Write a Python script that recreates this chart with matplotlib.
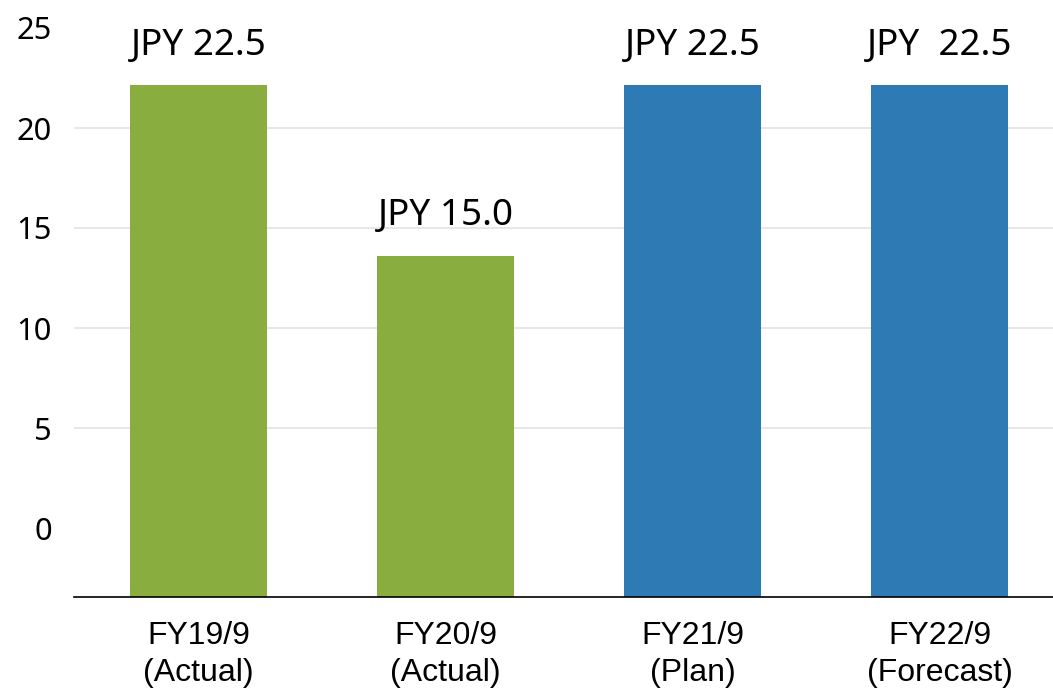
import matplotlib
matplotlib.use("Agg")
import matplotlib.pyplot as plt
from matplotlib import font_manager

# Dividend per share by fiscal year
categories = ["FY19/9\n(Actual)", "FY20/9\n(Actual)", "FY21/9\n(Plan)", "FY22/9\n(Forecast)"]
dividends = [22.5, 15.0, 22.5, 22.5]
value_labels = ["JPY 22.5", "JPY 15.0", "JPY 22.5", "JPY  22.5"]
bar_colors = ["#89AD3F", "#89AD3F", "#2E7AB4", "#2E7AB4"]
scale_ticks = [0, 5, 10, 15, 20, 25]

noto_path = font_manager.findfont(font_manager.FontProperties(family="Noto Sans"))
arial_path = font_manager.findfont(font_manager.FontProperties(family="Liberation Sans"))
num_font = font_manager.FontProperties(fname=noto_path, size=22.2)
cat_font = font_manager.FontProperties(fname=arial_path, size=23)
val_font = font_manager.FontProperties(fname=noto_path, size=26.5)

W, H = 1053, 691
fig = plt.figure(figsize=(W / 100, H / 100), dpi=100)
fig.patch.set_facecolor("white")

left_px, base_px = 74, 597
rect = [left_px / W, (H - base_px) / H, 1 - left_px / W, base_px / H]

# Scale axis: left tick labels and light gridlines
ax = fig.add_axes(rect)
ax.set_ylim(-3.45, 26.4)
ax.set_yticks(scale_ticks)
ax.set_yticklabels([str(t) for t in scale_ticks], fontproperties=num_font)
ax.tick_params(axis="y", length=0, pad=16)
ax.set_xticks([])
ax.grid(axis="y", color="#E3E3E3", linewidth=1.2)
gl = ax.yaxis.get_gridlines()
gl[0].set_visible(False)
gl[-1].set_visible(False)
for s in ax.spines.values():
    s.set_visible(False)

# Bar axis, drawn over the scale axis
axb = fig.add_axes(rect)
axb.patch.set_visible(False)
axb.set_ylim(0, base_px / 22.75)
x = list(range(len(categories)))
bars = axb.bar(x, dividends, width=0.555, color=bar_colors, zorder=2)
axb.set_xlim((left_px - 198.5) / 247, (W - 198.5) / 247)
axb.set_yticks([])
axb.set_xticks(x)
axb.set_xticklabels(categories, fontproperties=cat_font, linespacing=1.3)
axb.tick_params(axis="x", length=0, pad=17)
for name, s in axb.spines.items():
    s.set_visible(name == "bottom")
axb.spines["bottom"].set_color("black")
axb.spines["bottom"].set_linewidth(1.2)

for rect_, lab in zip(bars, value_labels):
    axb.annotate(lab, (rect_.get_x() + rect_.get_width() / 2, rect_.get_height()),
                 xytext=(0, 15.5), textcoords="offset points", ha="center", va="bottom",
                 fontproperties=val_font)

fig.savefig("out.png", dpi=100, facecolor="white")
